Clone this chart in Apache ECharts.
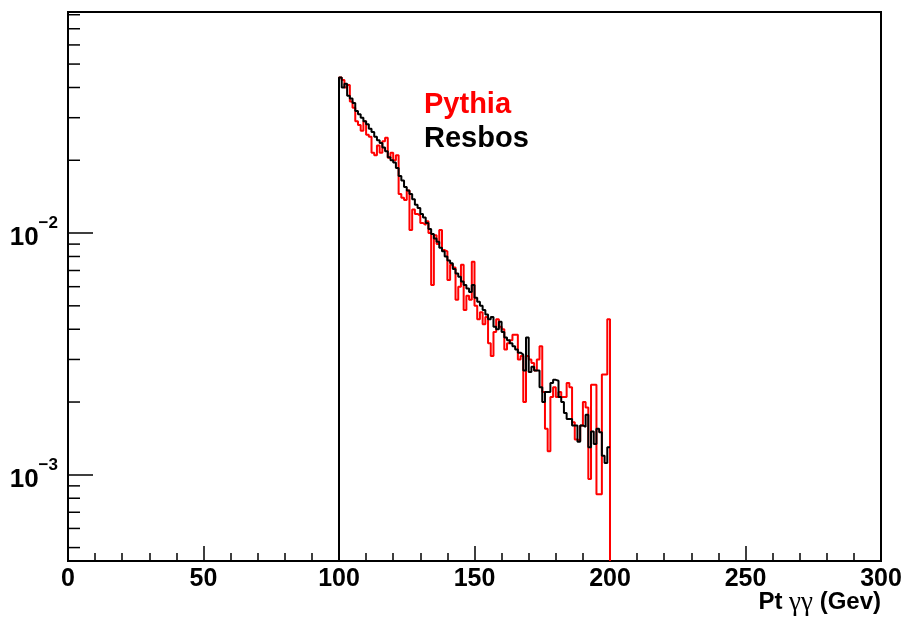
<!DOCTYPE html>
<html><head><meta charset="utf-8">
<script src="https://cdn.jsdelivr.net/npm/echarts@6/dist/echarts.min.js"></script>
<style>html,body{margin:0;padding:0;background:#fff}#c{width:905px;height:619px}</style>
</head><body><div id="c"></div>
<script>
// Histogram bins: 1 GeV wide, from 100 to 200 GeV
const binStart = 100;
const binWidth = 1;
const pythia = [
0.0440,0.0430,0.0400,0.0410,0.0350,0.0330,0.0290,0.0280,0.0265,0.0290,
0.0255,0.0250,0.0215,0.0210,0.0230,0.0215,0.0240,0.0248,0.0205,0.0215,
0.0200,0.0210,0.0145,0.0140,0.0137,0.0150,0.0103,0.0125,0.0120,0.0118,
0.0110,0.0108,0.0112,0.0100,0.0061,0.0098,0.0090,0.0103,0.0085,0.0084,
0.0064,0.0074,0.0072,0.0053,0.0060,0.0074,0.0048,0.0055,0.0053,0.0076,
0.0050,0.0044,0.0047,0.0042,0.0045,0.0035,0.0031,0.0039,0.0044,0.0041,
0.0040,0.0033,0.0035,0.0036,0.0038,0.0038,0.0030,0.0031,0.0020,0.0031,
0.0030,0.0029,0.0027,0.0030,0.0034,0.0022,0.00155,0.00125,0.0021,0.0023,
0.0021,0.0022,0.0021,0.0021,0.0024,0.0023,0.00165,0.0014,0.00138,0.0016,
0.0020,0.0019,0.00096,0.00236,0.00236,0.00083,0.00083,0.0026,0.0026,0.0044
];
const resbos = [
0.0440,0.0400,0.0415,0.0370,0.0360,0.0345,0.0320,0.0310,0.0300,0.0290,
0.0282,0.0270,0.0262,0.0250,0.0242,0.0236,0.0226,0.0218,0.0206,0.0200,
0.0196,0.0186,0.0172,0.0165,0.0155,0.0150,0.0145,0.0138,0.0131,0.0127,
0.0120,0.0116,0.0110,0.0104,0.0099,0.0095,0.0092,0.0087,0.0084,0.0080,
0.0077,0.0075,0.0071,0.0068,0.0066,0.0063,0.0061,0.0059,0.0057,0.0061,
0.0054,0.0052,0.0050,0.0048,0.0046,0.0044,0.0045,0.0041,0.0040,0.0043,
0.0039,0.0037,0.0036,0.0035,0.0034,0.0033,0.0032,0.00314,0.0027,0.0037,
0.00266,0.0028,0.0027,0.0027,0.0023,0.0020,0.0022,0.0022,0.0024,0.00247,
0.00245,0.0021,0.0020,0.0018,0.0017,0.0017,0.0016,0.0016,0.00137,0.0016,
0.00158,0.00177,0.0013,0.00151,0.00134,0.00155,0.0015,0.0012,0.00112,0.0013
];
const xMin = 0, xMax = 300, xInterval = 50;
const yMin = 4.4e-4, yMax = 0.0821;
const yMinorTicks = [5e-4,6e-4,7e-4,8e-4,9e-4,2e-3,3e-3,4e-3,5e-3,6e-3,7e-3,8e-3,9e-3,2e-2,3e-2,4e-2,5e-2,6e-2,7e-2,8e-2];
const legendNames = ['Pythia','Resbos'];
const xTitle = ['Pt ', '\u03b3\u03b3', ' (Gev)'];

function stepPoints(vals, dropAtEnd){
  const pts = [[binStart, yMin]];
  vals.forEach((v,i)=>{ pts.push([binStart+i*binWidth, v]); pts.push([binStart+(i+1)*binWidth, v]); });
  if (dropAtEnd) pts.push([binStart+vals.length*binWidth, yMin]);
  return pts;
}

const chart = echarts.init(document.getElementById('c'), null, {renderer:'canvas'});
const F = 'Liberation Sans, Arial, Helvetica, sans-serif';
chart.setOption({
  animation:false,
  backgroundColor:'#fff',
  grid:{left:68, top:12, right:24, bottom:58, show:true, borderColor:'#000', borderWidth:2, backgroundColor:'transparent'},
  xAxis:{type:'value', min:xMin, max:xMax, interval:xInterval,
    axisLine:{show:true, onZero:false, lineStyle:{color:'#000', width:2}},
    axisTick:{show:true, inside:true, length:15, lineStyle:{color:'#000', width:1.5}},
    minorTick:{show:true, splitNumber:5, length:8, lineStyle:{color:'#000', width:1.5}},
    splitLine:{show:false},
    axisLabel:{color:'#000', fontFamily:F, fontWeight:'bold', fontSize:25, margin:6}
  },
  yAxis:{type:'log', logBase:10, min:yMin, max:yMax,
    axisLine:{show:true, lineStyle:{color:'#000', width:2}},
    axisTick:{show:true, inside:true, length:25, lineStyle:{color:'#000', width:1.5}},
    splitLine:{show:false},
    axisLabel:{color:'#000', margin:10,
      formatter:function(v){ const e=Math.round(Math.log10(v)); if (Math.abs(v-Math.pow(10,e))/v>1e-6) return ''; return '{b|10}{s|\u2212'+Math.abs(e)+'}'; },
      rich:{
        b:{fontFamily:F, fontWeight:'bold', fontSize:26, color:'#000', verticalAlign:'bottom', lineHeight:36},
        s:{fontFamily:F, fontWeight:'bold', fontSize:17, color:'#000', verticalAlign:'top', lineHeight:36}
      }
    }
  },
  graphic:[
    {type:'text', left:424, top:90, style:{text:legendNames[0], fill:'#ff0000', font:'bold 29px '+F}},
    {type:'text', left:424, top:124, style:{text:legendNames[1], fill:'#000', font:'bold 29px '+F}},
    {type:'text', right:24, top:589, style:{text:'{a|'+xTitle[0]+'}{g|'+xTitle[1]+'}{a|'+xTitle[2]+'}', rich:{
      a:{font:'bold 24px '+F, fill:'#000'}, g:{font:'27px "Liberation Serif", "DejaVu Serif", serif', fill:'#000'}}}}
  ],
  series:[
    {name:legendNames[0], type:'line', data:stepPoints(pythia, true), showSymbol:false, symbol:'none',
      lineStyle:{color:'#ff0000', width:2}, itemStyle:{color:'#ff0000'}, silent:true, z:2},
    {name:legendNames[1], type:'line', data:stepPoints(resbos, false), showSymbol:false, symbol:'none',
      lineStyle:{color:'#000', width:2}, itemStyle:{color:'#000'}, silent:true, z:3},
    {type:'custom', silent:true, z:4, data:yMinorTicks.map(v=>[xMin, v]),
      renderItem:function(params, api){ const p=api.coord([api.value(0), api.value(1)]);
        return {type:'line', shape:{x1:p[0], y1:p[1], x2:p[0]+12, y2:p[1]}, style:{stroke:'#000', lineWidth:1.5}}; }}
  ]
});
</script></body></html>
